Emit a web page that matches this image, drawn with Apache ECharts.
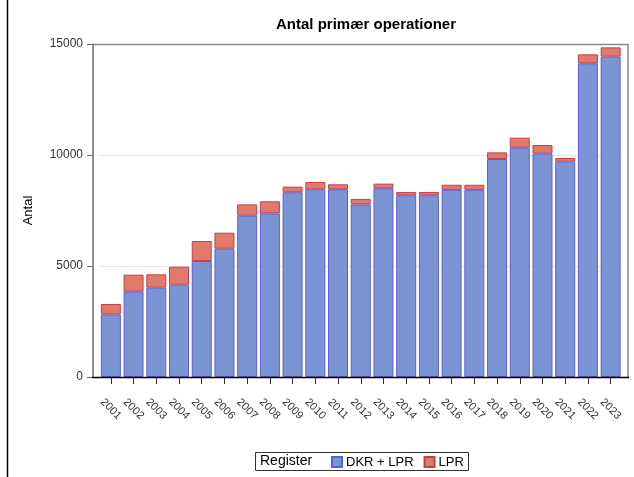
<!DOCTYPE html>
<html>
<head>
<meta charset="utf-8">
<script src="https://cdn.jsdelivr.net/npm/echarts@6/dist/echarts.min.js"></script>
<style>
html,body{margin:0;padding:0;background:#fff;}
#chart{width:634px;height:477px;}
</style>
</head>
<body>
<div id="chart"></div>
<script>
const years = ['2001','2002','2003','2004','2005','2006','2007','2008','2009','2010','2011','2012','2013','2014','2015','2016','2017','2018','2019','2020','2021','2022','2023'];
const dkrLpr = [2820,3845,4025,4160,5225,5780,7265,7370,8320,8455,8455,7775,8500,8185,8185,8430,8430,9820,10330,10060,9700,14130,14430];
const lprOnly = [470,765,600,810,900,720,510,545,255,330,225,245,210,150,150,230,230,300,450,390,165,405,420];
const yTicks = [0,5000,10000,15000];

const FONT = 'Liberation Sans, Arial, sans-serif';
const chart = echarts.init(document.getElementById('chart'), null, {renderer:'canvas'});
chart.setOption({
  animation:false,
  backgroundColor:'#fff',
  textStyle:{fontFamily:FONT},
  title:{
    text:'Antal primær operationer',
    left:361, top:12, textAlign:'center',
    textStyle:{fontFamily:FONT,fontSize:15,fontWeight:'bold',color:'#000'}
  },
  grid:{left:99.5, right:12, top:44, bottom:100, containLabel:false},
  legend:{
    left:331, top:455.5, padding:0,
    itemWidth:10, itemHeight:10, itemGap:10,
    icon:'rect',
    textStyle:{fontFamily:FONT,fontSize:13,color:'#000',padding:[0,0,0,-1]},
    data:['DKR + LPR','LPR']
  },
  xAxis:{
    type:'category',
    data:years,
    axisLine:{show:false},
    axisTick:{show:true,alignWithLabel:true,length:7,lineStyle:{color:'#333'}},
    axisLabel:{rotate:-45,fontSize:11,color:'#333',margin:32,align:'center',verticalAlign:'middle',fontFamily:FONT},
    splitLine:{show:false}
  },
  yAxis:{
    type:'value',
    min:yTicks[0], max:yTicks[yTicks.length-1], interval:5000,
    offset:6.5,
    name:'Antal', nameLocation:'middle', nameGap:58, nameRotate:90,
    nameTextStyle:{fontFamily:FONT,fontSize:13,color:'#000'},
    axisLine:{show:true,lineStyle:{color:'#888',width:1.5}},
    axisTick:{show:true,length:6,lineStyle:{color:'#666'}},
    axisLabel:{fontSize:12,color:'#333',margin:10,fontFamily:FONT,formatter:function(v){return String(v);}},
    splitLine:{show:true,lineStyle:{color:'#e6e6e6'}}
  },
  series:[
    {name:'DKR + LPR',type:'bar',stack:'s',data:dkrLpr,barCategoryGap:'12%',
     itemStyle:{color:'#7b95d4',borderColor:'#5b5fd8',borderWidth:1}},
    {name:'LPR',type:'bar',stack:'s',data:lprOnly,barCategoryGap:'12%',
     itemStyle:{color:'#e27a6c',borderColor:'#c4404e',borderWidth:1}}
  ],
  graphic:[
    {type:'line',shape:{x1:7.5,y1:0,x2:7.5,y2:477},style:{stroke:'#000',lineWidth:1.5},z:10},
    {type:'polyline',shape:{points:[[93,377],[93,44.5],[628,44.5],[628,377]]},style:{stroke:'#888',lineWidth:1.5,fill:null},z:10},
    {type:'line',shape:{x1:92,y1:377.5,x2:629,y2:377.5},style:{stroke:'#000',lineWidth:1.5},z:10},
    {type:'rect',shape:{x:255.5,y:452.5,width:213,height:18},style:{stroke:'#333',lineWidth:1,fill:null},z:10},
    {type:'text',left:260,top:454,style:{text:'Register',font:'14px '+FONT,fill:'#000'},z:10}
  ]
});
</script>
</body>
</html>
